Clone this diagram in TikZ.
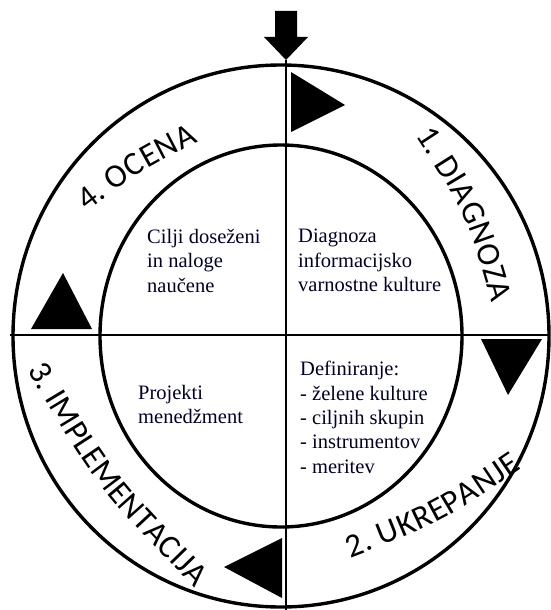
\documentclass[tikz,border=0pt]{standalone}
\usepackage{fontspec}
\setmainfont{Liberation Serif}
\newfontfamily\ringfont{Carlito}
\usetikzlibrary{decorations.text}
\newcommand\ringTxt{\ringfont\fontsize{33}{33}\selectfont}
\tikzstyle{ringLine} = [line width=3.4pt, draw=black]
\tikzstyle{crossLine} = [line width=2.6pt, draw=black]
\tikzstyle{txtNode} = [anchor=north west, inner sep=0pt, align=left, text=black!85!blue, font=\fontsize{20.5}{24.4}\selectfont]
\tikzstyle{flowTri} = [fill=black]
\tikzstyle{ringText} = [decorate, decoration={text along path, text align=fit to path}]

\begin{document}
\begin{tikzpicture}[x=1pt, y=-1pt]
        \useasboundingbox (0,0) rectangle (550,610);
        \coordinate (c) at (281,336);
        \coordinate (top) at (286,60);
        \coordinate (bot) at (286,610);
        \coordinate (lft) at (10,335);
        \coordinate (rgt) at (550,335);

        % rings and cross
        \draw [ringLine] (c) ellipse [x radius=268, y radius=271];
        \draw [ringLine] (c) ellipse [x radius=181, y radius=191];
        \draw [crossLine] (top) -- (bot);
        \draw [crossLine] (lft) -- (rgt);

        % entry arrow
        \fill (275,11) -- (297,11) -- (297,37) -- (308,37) -- (top) -- (264,37) -- (275,37) -- cycle;

        % direction marks
        \fill [flowTri] (291,72) -- (291,132) -- (345,105) -- cycle;
        \fill [flowTri] (481,339) -- (542,339) -- (508,395) -- cycle;
        \fill [flowTri] (282,538) -- (282,598) -- (224,567) -- cycle;
        \fill [flowTri] (63,273) -- (31,329) -- (92,329) -- cycle;

        % phase names
        \path [ringText, decoration={text={|\ringTxt|4. OCENA}}]
            (87,212) .. controls (139,172) .. (198,142);
        \path [ringText, decoration={text={|\ringTxt|1. DIAGNOZA}}]
            (415,135) .. controls (466,213) .. (492,303);
        \path [ringText, decoration={text={|\ringTxt|2. UKREPANJE}}]
            (350,558) .. controls (441,523) .. (522,468);
        \path [ringText, decoration={text={|\ringTxt|3. IMPLEMENTACIJA}}]
            (27,370) .. controls (98,489) .. (195,588);

        % quadrant texts
        \node (goalTxt) [txtNode] at (147,229) {Cilji doseženi\\in naloge\\naučene};
        \node (diagTxt) [txtNode] at (298,229) {Diagnoza\\informacijsko\\varnostne kulture};
        \node (projTxt) [txtNode] at (138,385) {Projekti\\menedžment};
        \node (defTxt) [txtNode] at (300,361) {Definiranje:\\- želene kulture\\- ciljnih skupin\\- instrumentov\\- meritev};
\end{tikzpicture}
\end{document}
